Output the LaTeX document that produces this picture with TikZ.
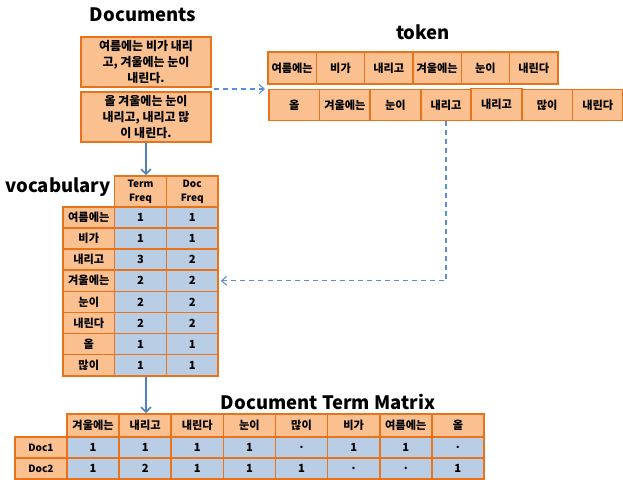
\documentclass[tikz,border=0pt]{standalone}
\usepackage{fontspec}
\setmainfont{Noto Sans CJK KR}
\usetikzlibrary{arrows.meta,calc}
\definecolor{ofill}{HTML}{FAC090}
\definecolor{oline}{HTML}{E8731A}
\definecolor{bfill}{HTML}{B9CDE5}
\definecolor{arrc}{HTML}{4F81BD}
\definecolor{darrc}{HTML}{5B8ED6}
\tikzset{
  ocell/.style={draw=oline, fill=ofill, line width=1.6pt, inner sep=0pt, font=\fontsize{11.2}{12}\selectfont\bfseries, align=center},
  bcell/.style={ocell, fill=bfill},
  hcell/.style={ocell, font=\fontsize{10}{14}\selectfont\bfseries},
  docbox/.style={ocell, minimum width=130, minimum height=50, font=\fontsize{12}{16}\selectfont\bfseries},
  ttl/.style={font=\fontsize{18.5}{20}\selectfont\bfseries},
  arr/.style={draw=arrc, line width=1.6pt, -{Straight Barb[length=5pt,width=10pt]}},
  darr/.style={draw=darrc, line width=1.1pt, dash pattern=on 5pt off 4pt, -{Straight Barb[length=5pt,width=9pt]}}
}
\begin{document}
\begin{tikzpicture}[x=1pt,y=-1pt]
\useasboundingbox (0,0) rectangle (623,479);
% Documents
\node[ttl] (tdoc) at (143,15) {Documents};
\node[docbox] (doc1) at (146,62) {여름에는 비가 내리\\고, 겨울에는 눈이\\내린다.};
\node[docbox] (doc2) at (146,117) {올 겨울에는 눈이\\내리고, 내리고 많\\이 내린다.};
% token
\node[ttl] (ttok) at (423,32) {token};
\foreach \t [count=\i] in {여름에는,비가,내리고,겨울에는,눈이,내린다}
  \node[ocell, minimum width=48.33, minimum height=32] (ta\i) at ({268+48.33*(\i-0.5)},68) {\t};
\foreach \t [count=\i] in {올,겨울에는,눈이,내리고,내리고,많이,내린다}
  \node[ocell, minimum width=50.57, minimum height=31] (tb\i) at ({269+50.57*(\i-0.5)},105) {\t};
\node[ocell, minimum width=50.57, minimum height=32] (tb5r) at ({269+50.57*4.5},104.5) {내리고};
% vocabulary
\node[ttl] (tvoc) at (58,187) {vocabulary};
\node[hcell, minimum width=51.67, minimum height=31] (vtf) at (140.5,191.5) {Term\\Freq};
\node[hcell, minimum width=51.67, minimum height=31] (vdf) at (192.2,191.5) {Doc\\Freq};
\foreach \t/\a/\b [count=\i] in {여름에는/1/1,비가/1/1,내리고/3/2,겨울에는/2/2,눈이/2/2,내린다/2/2,올/1/1,많이/1/1}{
  \node[ocell, minimum width=51.67, minimum height=21.1] (vl\i) at (88.8,{217.5+21.1*(\i-1)}) {\t};
  \node[bcell, minimum width=51.67, minimum height=21.1] (vt\i) at (140.5,{217.5+21.1*(\i-1)}) {\a};
  \node[bcell, minimum width=51.67, minimum height=21.1] (vd\i) at (192.2,{217.5+21.1*(\i-1)}) {\b};
}
% DTM
\node[ttl] (tdtm) at (328,402) {Document Term Matrix};
\foreach \t [count=\i] in {겨울에는,내리고,내린다,눈이,많이,비가,여름에는,올}
  \node[ocell, minimum width=52.12, minimum height=23] (dh\i) at ({67+52.12*(\i-0.5)},425.5) {\t};
\node[hcell, minimum width=52, minimum height=21] (dr1) at (41,447.5) {Doc1};
\node[hcell, minimum width=52, minimum height=21] (dr2) at (41,468.5) {Doc2};
\foreach \v [count=\i] in {1,1,1,1,.,1,1,.}
  \node[bcell, minimum width=52.12, minimum height=21] (da\i) at ({67+52.12*(\i-0.5)},447.5) {\v};
\foreach \v [count=\i] in {1,2,1,1,1,.,.,1}
  \node[bcell, minimum width=52.12, minimum height=21] (db\i) at ({67+52.12*(\i-0.5)},468.5) {\v};
% connectors
\draw[arr] (doc2.south) -- (doc2.south |- vtf.north);
\draw[arr] (doc2.south |- vt8.south) -- (doc2.south |- dh2.north);
\coordinate (dgap) at (214,89);
\coordinate (tokin) at (265,89);
\draw[darr] (dgap) -- (tokin);
\draw[darr] (tb4.south) |- ($(vd4.east)+(2,0)$);
\end{tikzpicture}
\end{document}
